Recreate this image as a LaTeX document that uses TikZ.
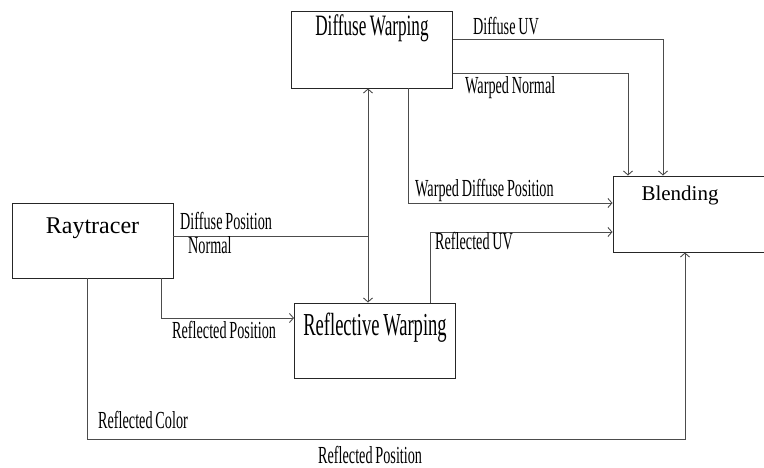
\documentclass[tikz,border=0pt]{standalone}
\usepackage{fontspec}
\setmainfont{Liberation Serif}
\newfontfamily\narrowfont[FakeStretch=0.58,WordSpace=0.8]{Liberation Serif}
\usetikzlibrary{arrows.meta,positioning}

\begin{document}
\begin{tikzpicture}[
		x = 1pt, y = -1pt,
		on grid,
		> = {Straight Barb[length=4pt,width=9pt]},
		box/.style = {draw=black!85, line width=0.9pt, inner sep=0pt, minimum width=161pt},
		flow/.style = {draw=black!70, line width=0.9pt},
		lbl/.style = {inner sep=0pt, anchor=base west, font=\narrowfont\fontsize{24.5}{25}\selectfont}
		]
		\useasboundingbox (0,0) rectangle (764,468);
		\clip (0,0) rectangle (764,468);
		% boxes
		\node[box, text height=31pt, text depth=44pt, font=\fontsize{24}{24}\selectfont] (RT) at (92.5,240.5) {Raytracer};
		\node[box, text height=24.7pt, text depth=52.3pt, font=\narrowfont\fontsize{29.6}{30}\selectfont] (DW) [above right=191pt and 279.5pt of RT] {Diffuse Warping};
		\node[box, minimum width=153pt, text width=153pt, align=left, text height=25pt, text depth=51pt, font=\fontsize{21}{21}\selectfont] (BL) [above right=26.5pt and 597pt of RT] {\hspace*{28.5pt}Blending};
		\node[box, text height=32pt, text depth=43pt, font=\narrowfont\fontsize{32}{32}\selectfont] (RW) [below right=100pt and 282.5pt of RT] {Reflective Warping};
		% bends
		\coordinate (J) at (368,236);
		\coordinate (uv) at (663,39);
		\coordinate (wn) at (628,73);
		\coordinate (wd) at (408,203);
		\coordinate (ru) at (430,232);
		\coordinate (rp) at (161,318);
		\coordinate (rc) at (87,439);
		\coordinate (rc2) at (685,439);
		% connectors
		\draw[flow] (RT.east |- J) -- (J);
		\draw[flow,->] (J) -- (J |- DW.south);
		\draw[flow,->] (J) -- (J |- RW.north);
		\draw[flow,->] (DW.east |- uv) -| (BL.north -| uv);
		\draw[flow,->] (DW.east |- wn) -| (BL.north -| wn);
		\draw[flow,->] (DW.south -| wd) |- (BL.west |- wd);
		\draw[flow,->] (RW.north -| ru) |- (BL.west |- ru);
		\draw[flow,->] (RT.south -| rp) |- (RW.west |- rp);
		\draw[flow,->] (RT.south -| rc) |- (rc2) -- (rc2 |- BL.south);
		% labels
		\node[lbl] (tUV) at (473,34.5) {Diffuse UV};
		\node[lbl] (tWN) at (465,94) {Warped Normal};
		\node[lbl] (tWD) at (415,196.5) {Warped Diffuse Position};
		\node[lbl] (tRU) at (435,250) {Reflected UV};
		\node[lbl] (tDP) at (180,230) {Diffuse Position};
		\node[lbl] (tNO) at (188,254) {Normal};
		\node[lbl] (tRP) at (172,338) {Reflected Position};
		\node[lbl] (tRC) at (98,428) {Reflected Color};
		\node[lbl] (tRP2) at (318,463) {Reflected Position};
\end{tikzpicture}
\end{document}
